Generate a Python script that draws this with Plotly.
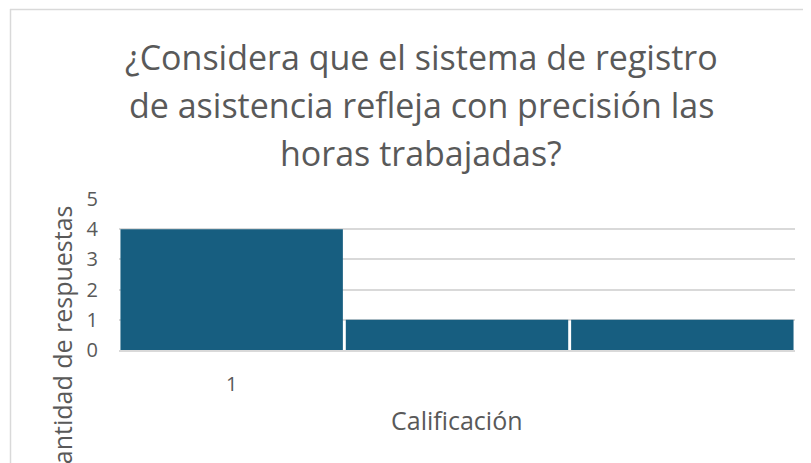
import plotly.graph_objects as go

categories = [1, 2, 3]
values = [4, 1, 1]
tick_vals = [1]
tick_text = ["1"]
title_lines = ["¿Considera que el sistema de registro",
               "de asistencia refleja con precisión las",
               "horas trabajadas?"]
x_title = "Calificación"
y_title = "Cantidad de respuestas"

OFF = 8  # page body margin
W, H = 811, 463
L, R, T, B = 119 - OFF, 16 + OFF, 199 - OFF, 113 + OFF
pw, ph = W - L - R, H - T - B

def px_x(px):
    return (px - OFF - L) / pw

def px_y(py):
    return (H - B - (py - OFF)) / ph

FONT = "Open Sans, Noto Sans, sans-serif"
GREY = "#595959"

fig = go.Figure()
fig.add_trace(go.Bar(x=categories, y=values, marker=dict(color="#175E80", line=dict(width=0))))

anns = []
for i, line in enumerate(title_lines):
    anns.append(dict(text=line, xref="paper", yref="paper", x=px_x(421), y=px_y(57 + 48 * i),
                     xanchor="center", yanchor="middle", showarrow=False,
                     font=dict(size=34, color=GREY, family=FONT)))
anns.append(dict(text=x_title, xref="paper", yref="paper", x=px_x(457), y=px_y(420),
                 xanchor="center", yanchor="middle", showarrow=False,
                 font=dict(size=25, color=GREY, family=FONT)))
anns.append(dict(text=y_title, xref="paper", yref="paper", x=px_x(62), y=px_y(343),
                 xanchor="center", yanchor="middle", showarrow=False, textangle=-90,
                 font=dict(size=25, color=GREY, family=FONT)))

fig.update_layout(
    width=W, height=H,
    margin=dict(l=L, r=R, t=T, b=B),
    paper_bgcolor="white", plot_bgcolor="white",
    showlegend=False, bargap=0.013,
    annotations=anns,
    shapes=[
        dict(type="line", xref="paper", yref="paper", x0=px_x(10), x1=px_x(819), y0=px_y(9.5), y1=px_y(9.5),
             line=dict(color="#d9d9d9", width=1.5)),
        dict(type="line", xref="paper", yref="paper", x0=px_x(10.5), x1=px_x(10.5), y0=px_y(9), y1=px_y(471),
             line=dict(color="#d9d9d9", width=1.5)),
    ],
)
fig.update_xaxes(range=[0.5, 3.5], tickvals=tick_vals, ticktext=tick_text, showgrid=False,
                 showline=True, linecolor="#d9d9d9", linewidth=2, ticks="", ticklabelstandoff=15,
                 tickfont=dict(size=20, color=GREY, family=FONT), zeroline=False)
fig.update_yaxes(range=[0, 5], dtick=1, showgrid=True, gridcolor="#d9d9d9", gridwidth=1.5,
                 zeroline=False, showline=False, ticks="", ticklabelstandoff=20,
                 tickfont=dict(size=20, color=GREY, family=FONT))

fig.write_html("out.html")
